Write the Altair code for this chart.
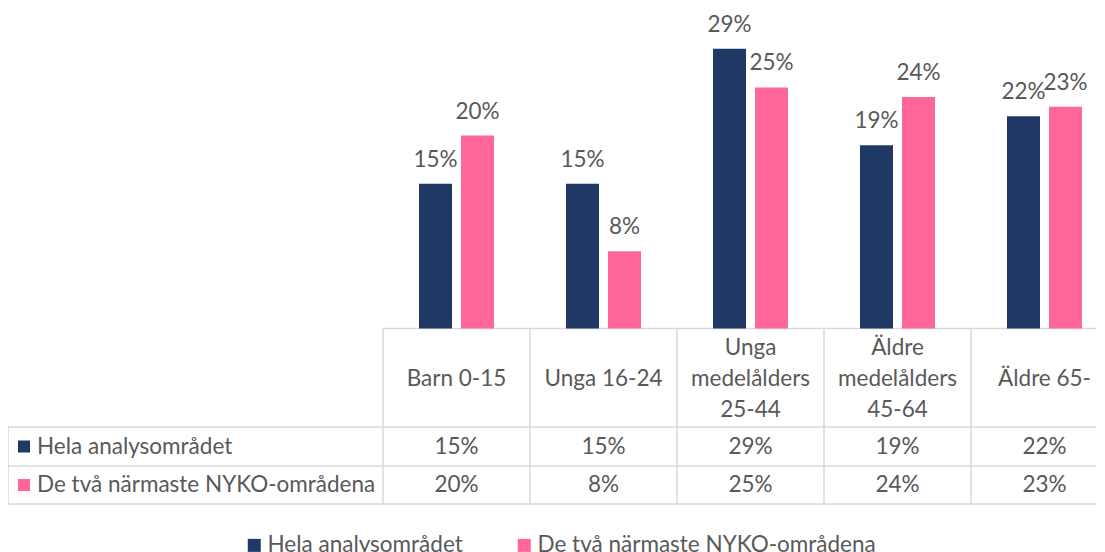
import altair as alt
import pandas as pd

categories = ["Barn 0-15", "Unga 16-24", "Unga medelålders 25-44",
              "Äldre medelålders 45-64", "Äldre 65-"]
header_labels = ["Barn 0-15", "Unga 16-24", "Unga\nmedelålders\n25-44",
                 "Äldre\nmedelålders\n45-64", "Äldre 65-"]
series = ["Hela analysområdet", "De två närmaste NYKO-områdena"]
hela = [0.15, 0.15, 0.29, 0.19, 0.22]
nyko = [0.20, 0.08, 0.25, 0.24, 0.23]
colors = ["#1F3864", "#FF6699"]

FONT = "Lato"
FS = 22.5
TXT = "#595959"
GRID = "#D9D9D9"
LH = 31

rows = []
for vals, s in [(hela, series[0]), (nyko, series[1])]:
    for c, v in zip(categories, vals):
        rows.append({"cat": c, "series": s, "value": v})
df = pd.DataFrame(rows)
hdr = pd.DataFrame({"cat": categories, "label": header_labels,
                    "nl": [lab.count("\n") + 1 for lab in header_labels]})
one = pd.DataFrame({"k": [0]})
row_labels = pd.DataFrame({"series": series, "row": [0, 1]})

W = 735
x_enc = alt.X("cat:N", sort=categories,
              scale=alt.Scale(paddingInner=0, paddingOuter=0), axis=None)
xoff = alt.XOffset("series:N", sort=series,
                   scale=alt.Scale(paddingInner=0.214, paddingOuter=0.857))
y_enc = alt.Y("value:Q", scale=alt.Scale(domain=[0, 0.3323], range=[320.5, 0]),
              axis=None)
color_enc = alt.Color(
    "series:N", sort=series,
    scale=alt.Scale(domain=series, range=colors),
    legend=alt.Legend(
        title=None, orient="none", legendX=-140, legendY=526,
        direction="horizontal", symbolType="square", symbolSize=169,
        symbolStrokeWidth=0, labelFont=FONT, labelFontSize=FS,
        labelColor=TXT, labelLimit=600, columnPadding=50, padding=0,
        labelOffset=2))

bars = alt.Chart(df).mark_bar().encode(x=x_enc, xOffset=xoff, y=y_enc,
                                       color=color_enc)
labels = alt.Chart(df).mark_text(
    baseline="alphabetic", dy=-17, font=FONT, fontSize=FS, color=TXT
).encode(x=x_enc, xOffset=xoff, y=y_enc, text=alt.Text("value:Q", format=".0%"))

vlines = alt.Chart(hdr).mark_rule(color=GRID, strokeWidth=1.5).encode(
    x=alt.X("cat:N", sort=categories, bandPosition=0,
            scale=alt.Scale(paddingInner=0, paddingOuter=0), axis=None),
    y=alt.value(320.5), y2=alt.value(496))
left_vline = alt.Chart(one).mark_rule(color=GRID, strokeWidth=1.5).encode(
    x=alt.value(-375), y=alt.value(419), y2=alt.value(496))
top_line = alt.Chart(one).mark_rule(color=GRID, strokeWidth=1.5).encode(
    x=alt.value(0), x2=alt.value(W), y=alt.value(320.5))
hlines = [alt.Chart(one).mark_rule(color=GRID, strokeWidth=1.5).encode(
    x=alt.value(-375), x2=alt.value(W), y=alt.value(yy)) for yy in (419, 458, 496)]

header1 = alt.Chart(hdr).transform_filter(alt.datum.nl == 1).mark_text(
    baseline="middle", font=FONT, fontSize=FS, color=TXT
).encode(x=x_enc, y=alt.value(371), text="label:N")
header3 = alt.Chart(hdr).transform_filter(alt.datum.nl == 3).mark_text(
    baseline="middle", lineBreak="\n", lineHeight=LH, font=FONT,
    fontSize=FS, color=TXT
).encode(x=x_enc, y=alt.value(371 - LH), text="label:N")

cells = []
for s, yy in zip(series, (438.5, 477)):
    cells.append(alt.Chart(df).transform_filter(alt.datum.series == s).mark_text(
        baseline="middle", font=FONT, fontSize=FS, color=TXT
    ).encode(x=x_enc, y=alt.value(yy), text=alt.Text("value:Q", format=".0%")))

row_txt = []
row_sym = []
for i, (s, yy) in enumerate(zip(series, (438.5, 477))):
    sub = row_labels[row_labels["series"] == s]
    row_txt.append(alt.Chart(sub).mark_text(
        align="left", baseline="middle", font=FONT, fontSize=FS, color=TXT
    ).encode(x=alt.value(-346), y=alt.value(yy), text="series:N"))
    row_sym.append(alt.Chart(sub).mark_point(
        shape="square", filled=True, size=144, opacity=1, color=colors[i]
    ).encode(x=alt.value(-359), y=alt.value(yy)))

chart = alt.layer(
    top_line, *hlines, vlines, left_vline, bars, labels, header1, header3,
    *cells, *row_txt, *row_sym
).properties(
    width=W, height=496, background="white",
    padding={"left": 375, "top": 0, "right": -22, "bottom": 56},
    autosize=alt.AutoSizeParams(type="none"),
).configure_view(stroke="transparent", strokeWidth=0)

chart.save("out.html", embed_options={"renderer": "svg", "actions": False})
